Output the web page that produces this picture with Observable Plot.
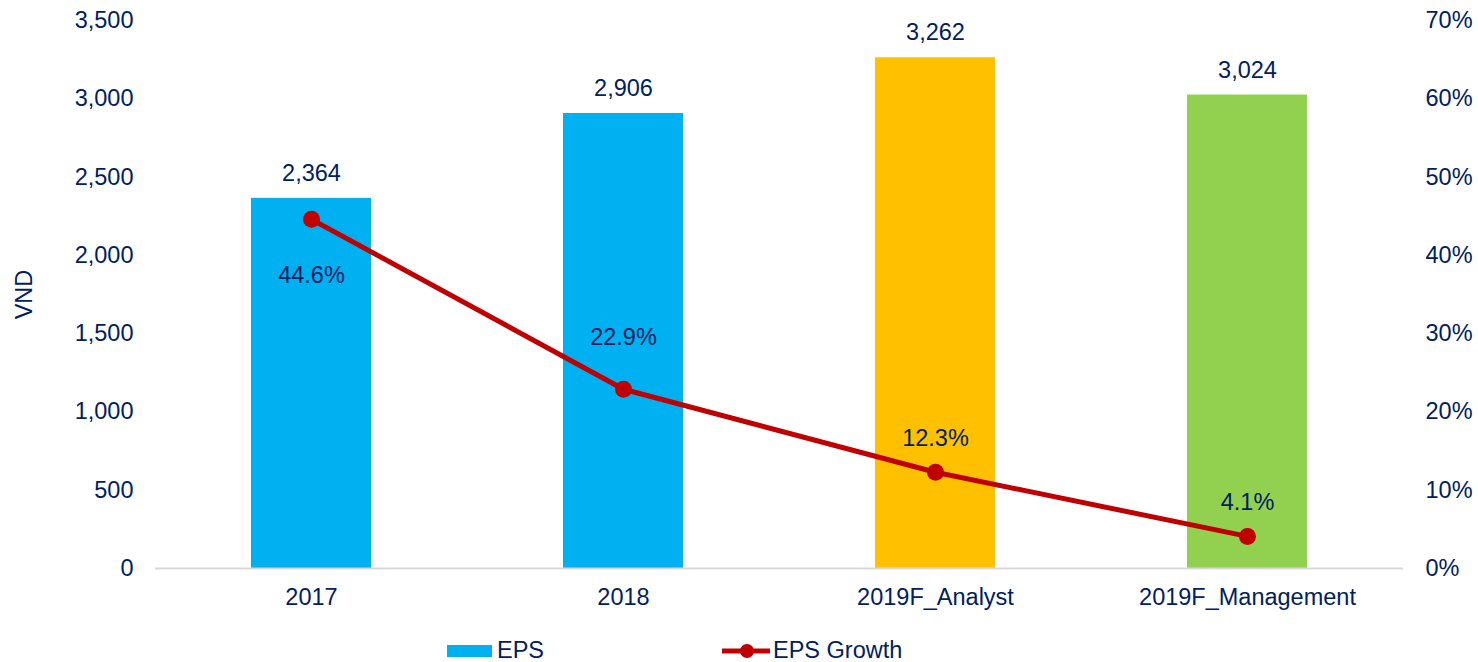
<!DOCTYPE html>
<html><head><meta charset="utf-8">
<script src="https://cdn.jsdelivr.net/npm/d3@7"></script>
<script src="https://cdn.jsdelivr.net/npm/@observablehq/plot@0.6"></script>
<style>
body{margin:0;background:#fff;font-family:"Liberation Sans",Arial,sans-serif;color:#002060;}
#wrap{position:relative;width:1478px;height:662px;overflow:hidden;}
#legend{position:relative;width:1478px;height:42px;font-size:23.5px;}
.li{position:absolute;top:0;height:42px;}
</style></head><body><div id="wrap"><div id="chart"></div><div id="legend"></div></div>
<script>
const categories = ["2017", "2018", "2019F_Analyst", "2019F_Management"];
const eps = [2364, 2906, 3262, 3024];
const epsGrowth = [44.6, 22.9, 12.3, 4.1];
const barColors = ["#00B0F0", "#00B0F0", "#FFC000", "#92D050"];
const leftTicks = [0, 500, 1000, 1500, 2000, 2500, 3000, 3500];
const rightTicks = [0, 10, 20, 30, 40, 50, 60, 70];

const navy = "#002060";
const fs = 23.5;
const k = 3500 / 70; // right-axis scale factor (percent -> left units)
const data = categories.map((c, i) => ({cat: c, eps: eps[i], growth: epsGrowth[i], color: barColors[i]}));

const chart = Plot.plot({
  width: 1478,
  height: 620,
  marginTop: 20,
  marginBottom: 52,
  marginLeft: 155,
  marginRight: 75,
  style: {fontFamily: "Liberation Sans, Arial, sans-serif", fontSize: fs + "px", color: navy, background: "#fff"},
  x: {domain: categories, paddingInner: 0.615, paddingOuter: 0.3075},
  y: {domain: [0, 3500]},
  color: {type: "identity"},
  marks: [
    Plot.barY(data, {x: "cat", y: "eps", fill: "color"}),
    Plot.ruleY([0], {stroke: "#d9d9d9", strokeWidth: 2}),
    Plot.axisY(leftTicks, {anchor: "left", tickSize: 0, tickPadding: 22, tickFormat: d3.format(","), label: null, fontSize: fs}),
    Plot.axisY(rightTicks.map(t => t * k), {anchor: "right", tickSize: 0, tickPadding: 22, tickFormat: d => Math.round(d / k) + "%", label: null, fontSize: fs}),
    Plot.axisX({tickSize: 0, tickPadding: 20, label: null, fontSize: fs}),
    Plot.text(["VND"], {frameAnchor: "left", textAnchor: "middle", dx: -131, rotate: -90, fontSize: fs, fill: navy}),
    Plot.text(data, {x: "cat", y: "eps", text: d => d3.format(",")(d.eps), dy: -25, fontSize: fs, fill: navy}),
    Plot.line(data, {x: "cat", y: d => d.growth * k, stroke: "#C00000", strokeWidth: 5}),
    Plot.dot(data, {x: "cat", y: d => d.growth * k, r: 8.5, fill: "#C00000"}),
    Plot.text(data, {filter: (d, i) => i === 0, x: "cat", y: d => d.growth * k, text: d => d.growth.toFixed(1) + "%", dy: 56, fontSize: fs, fill: navy}),
    Plot.text(data, {filter: (d, i) => i === 1, x: "cat", y: d => d.growth * k, text: d => d.growth.toFixed(1) + "%", dy: -52, fontSize: fs, fill: navy}),
    Plot.text(data, {filter: (d, i) => i >= 2, x: "cat", y: d => d.growth * k, text: d => d.growth.toFixed(1) + "%", dy: -34, fontSize: fs, fill: navy})
  ]
});
document.getElementById("chart").appendChild(chart);

const legend = document.getElementById("legend");
legend.innerHTML = `
  <div class="li" style="left:447px;"><svg width="50" height="42" style="position:absolute;left:0;top:0"><rect x="0" y="25" width="45" height="12" fill="#00B0F0"/></svg><span style="position:absolute;left:50px;top:18px;line-height:24px;white-space:nowrap">EPS</span></div>
  <div class="li" style="left:722px;"><svg width="50" height="42" style="position:absolute;left:0;top:0"><line x1="0" y1="31" x2="48" y2="31" stroke="#C00000" stroke-width="5"/><circle cx="25" cy="31" r="7" fill="#C00000"/></svg><span style="position:absolute;left:51px;top:18px;line-height:24px;white-space:nowrap">EPS Growth</span></div>
`;
</script>
</body></html>
